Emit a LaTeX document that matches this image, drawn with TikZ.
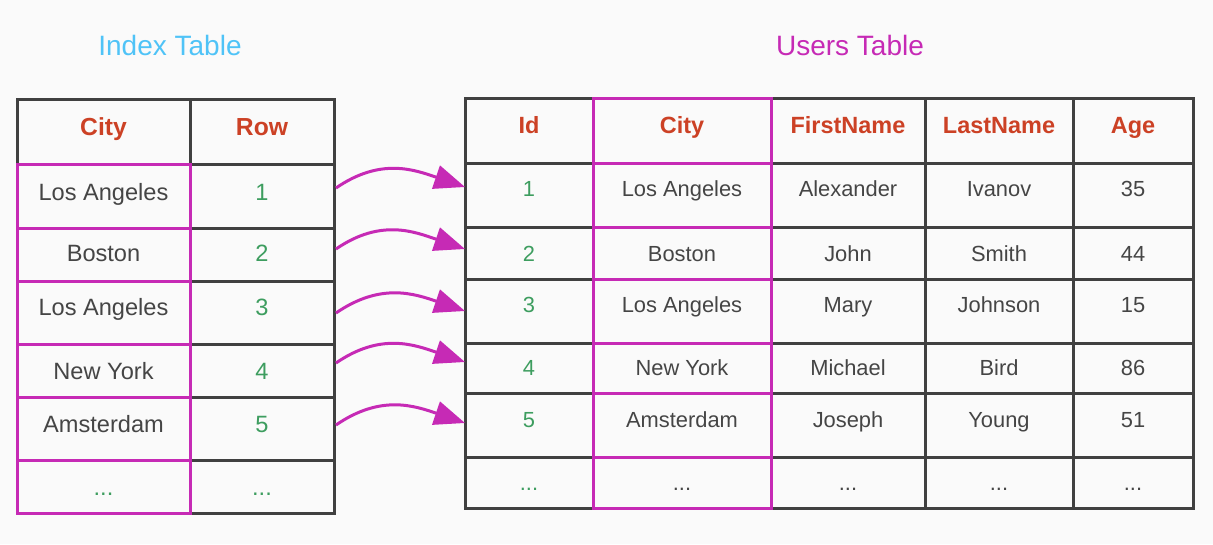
\documentclass[tikz,border=0pt]{standalone}
\usepackage{fontspec}
\setmainfont{Liberation Sans}
\usetikzlibrary{arrows.meta}

\definecolor{gridgray}{HTML}{404040}
\definecolor{idxmag}{HTML}{C62AB5}
\definecolor{hdrred}{HTML}{CC4125}
\definecolor{rowgreen}{HTML}{3D9D5F}
\definecolor{txtgray}{HTML}{454545}
\definecolor{ttlblue}{HTML}{4FC3F7}
\definecolor{pagebg}{HTML}{FAFAFA}

\tikzset{every picture/.style={line width=2.25pt}}
\tikzset{
  tblline/.style={draw=gridgray, line width=2.25pt},
  hilite/.style={draw=idxmag, line width=2.25pt},
  link/.style={draw=idxmag, line width=2.25pt, -{Triangle[length=23pt,width=18pt]}},
  title/.style={anchor=base, inner sep=0pt, font=\fontsize{21}{24}\selectfont},
  lhdr/.style={anchor=base, inner sep=0pt, text=hdrred, font=\fontsize{18.5}{22}\selectfont\bfseries},
  lcell/.style={anchor=base, inner sep=0pt, text=txtgray, font=\fontsize{17.7}{21}\selectfont},
  lnum/.style={lcell, text=rowgreen},
  rhdr/.style={anchor=base, inner sep=0pt, text=hdrred, font=\fontsize{17.6}{21}\selectfont\bfseries},
  rcell/.style={anchor=base, inner sep=0pt, text=txtgray, font=\fontsize{16.4}{20}\selectfont},
  rnum/.style={rcell, text=rowgreen}
}

\begin{document}
\begin{tikzpicture}[x=0.75pt,y=0.75pt,yscale=-1,xscale=1]
%set diagram left start at 0, and has height of 544
\path[fill=pagebg] (0,0) rectangle (1213,544);

%Index table grid
\draw[tblline] (17,99) rectangle (334,513);
\draw[tblline] (190,99) -- (190,513);
\draw[tblline] (17,164) -- (334,164);
\draw[tblline] (17,228) -- (334,228);
\draw[tblline] (17,281) -- (334,281);
\draw[tblline] (17,344) -- (334,344);
\draw[tblline] (17,397) -- (334,397);
\draw[tblline] (17,460) -- (334,460);
%City column of the index table
\draw[hilite] (17,164) rectangle (190,513);
\draw[hilite] (17,228) -- (190,228);
\draw[hilite] (17,281) -- (190,281);
\draw[hilite] (17,344) -- (190,344);
\draw[hilite] (17,397) -- (190,397);
\draw[hilite] (17,460) -- (190,460);

%Users table grid
\draw[tblline] (465,98) rectangle (1193,508);
\draw[tblline] (925,98) -- (925,508);
\draw[tblline] (1073,98) -- (1073,508);
\draw[tblline] (465,163) -- (1193,163);
\draw[tblline] (465,227) -- (1193,227);
\draw[tblline] (465,279) -- (1193,279);
\draw[tblline] (465,343) -- (1193,343);
\draw[tblline] (465,393) -- (1193,393);
\draw[tblline] (465,457) -- (1193,457);
%City column of the users table
\draw[hilite] (593,98) rectangle (771,508);
\draw[hilite] (593,163) -- (771,163);
\draw[hilite] (593,227) -- (771,227);
\draw[hilite] (593,279) -- (771,279);
\draw[hilite] (593,343) -- (771,343);
\draw[hilite] (593,393) -- (771,393);
\draw[hilite] (593,457) -- (771,457);

% Text Node
\node[title, text=ttlblue] (idxTitle) at (170,55) {Index Table};
% Text Node
\node[title, text=idxmag] (usrTitle) at (850,55) {Users Table};

% Index table texts
\node[lhdr] (idxCity) at (103.5,135) {City};
\node[lhdr] (idxRow) at (262,135) {Row};
\node[lcell] (idxC1) at (103.5,200) {Los Angeles};
\node[lnum] (idxR1) at (262,200) {1};
\node[lcell] (idxC2) at (103.5,261.7) {Boston};
\node[lnum] (idxR2) at (262,261.7) {2};
\node[lcell] (idxC3) at (103.5,315.7) {Los Angeles};
\node[lnum] (idxR3) at (262,315.7) {3};
\node[lcell] (idxC4) at (103.5,379) {New York};
\node[lnum] (idxR4) at (262,379) {4};
\node[lcell] (idxC5) at (103.5,432.3) {Amsterdam};
\node[lnum] (idxR5) at (262,432.3) {5};
\node[lnum] (idxC6) at (103.5,495) {...};
\node[lnum] (idxR6) at (262,495) {...};

% Users table texts
\node[rhdr] (usrId) at (529,133.3) {Id};
\node[rhdr] (usrCity) at (682,133.3) {City};
\node[rhdr] (usrFirst) at (848,133.3) {FirstName};
\node[rhdr] (usrLast) at (999,133.3) {LastName};
\node[rhdr] (usrAge) at (1133,133.3) {Age};

\node[rnum] (usrId1) at (529,196.7) {1};
\node[rcell] (usrCity1) at (682,196.7) {Los Angeles};
\node[rcell] (usrFirst1) at (848,196.7) {Alexander};
\node[rcell] (usrLast1) at (999,196.7) {Ivanov};
\node[rcell] (usrAge1) at (1133,196.7) {35};

\node[rnum] (usrId2) at (529,261) {2};
\node[rcell] (usrCity2) at (682,261) {Boston};
\node[rcell] (usrFirst2) at (848,261) {John};
\node[rcell] (usrLast2) at (999,261) {Smith};
\node[rcell] (usrAge2) at (1133,261) {44};

\node[rnum] (usrId3) at (529,312.5) {3};
\node[rcell] (usrCity3) at (682,312.5) {Los Angeles};
\node[rcell] (usrFirst3) at (848,312.5) {Mary};
\node[rcell] (usrLast3) at (999,312.5) {Johnson};
\node[rcell] (usrAge3) at (1133,312.5) {15};

\node[rnum] (usrId4) at (529,375.7) {4};
\node[rcell] (usrCity4) at (682,375.7) {New York};
\node[rcell] (usrFirst4) at (848,375.7) {Michael};
\node[rcell] (usrLast4) at (999,375.7) {Bird};
\node[rcell] (usrAge4) at (1133,375.7) {86};

\node[rnum] (usrId5) at (529,427.3) {5};
\node[rcell] (usrCity5) at (682,427.3) {Amsterdam};
\node[rcell] (usrFirst5) at (848,427.3) {Joseph};
\node[rcell] (usrLast5) at (999,427.3) {Young};
\node[rcell] (usrAge5) at (1133,427.3) {51};

\node[rnum] (usrId6) at (529,490) {...};
\node[rcell] (usrCity6) at (682,490) {...};
\node[rcell] (usrFirst6) at (848,490) {...};
\node[rcell] (usrLast6) at (999,490) {...};
\node[rcell] (usrAge6) at (1133,490) {...};

% Arrow ends on the table borders
\coordinate (from1) at (336,188);
\coordinate (to1) at (465,187);
\coordinate (from2) at (336,249);
\coordinate (to2) at (465,249);
\coordinate (from3) at (336,313);
\coordinate (to3) at (465,311);
\coordinate (from4) at (336,363);
\coordinate (to4) at (465,362);
\coordinate (from5) at (336,425);
\coordinate (to5) at (465,423);

%Curved Arrows
\draw[link] (from1) .. controls +(45,-31) and +(-50,-17) .. (to1);
\draw[link] (from2) .. controls +(45,-31) and +(-50,-17) .. (to2);
\draw[link] (from3) .. controls +(45,-31) and +(-50,-17) .. (to3);
\draw[link] (from4) .. controls +(45,-31) and +(-50,-17) .. (to4);
\draw[link] (from5) .. controls +(45,-31) and +(-50,-17) .. (to5);

\end{tikzpicture}
\end{document}
